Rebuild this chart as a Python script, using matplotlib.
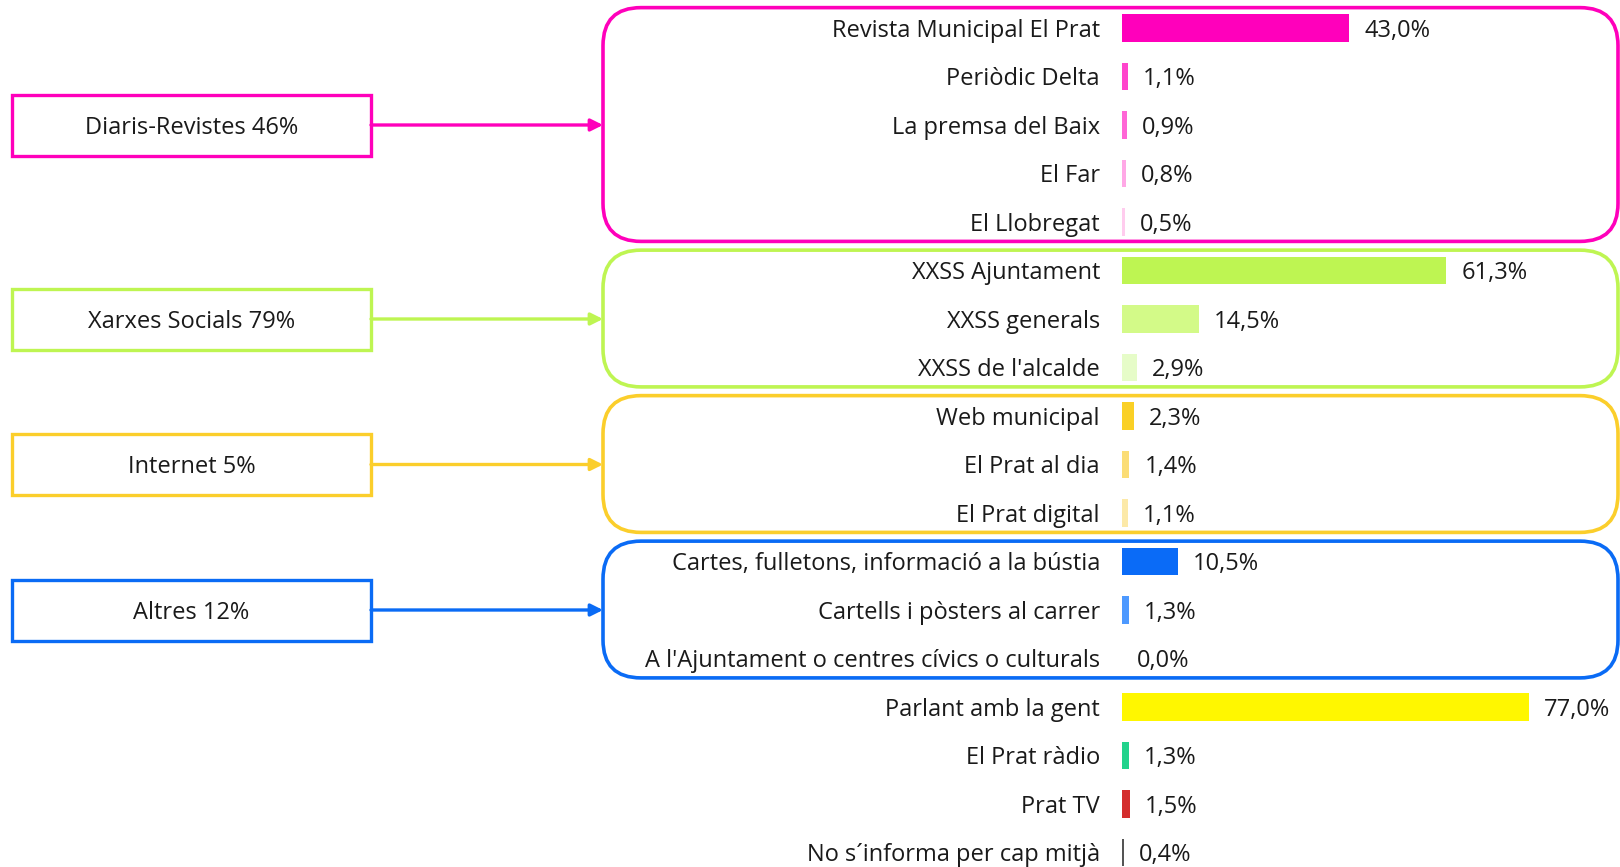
import matplotlib
matplotlib.use("Agg")
import matplotlib.pyplot as plt
from matplotlib.patches import FancyBboxPatch, Rectangle
import numpy as np

# ---------------- data ----------------
categories = [
    "Revista Municipal El Prat", "Periòdic Delta", "La premsa del Baix", "El Far", "El Llobregat",
    "XXSS Ajuntament", "XXSS generals", "XXSS de l'alcalde",
    "Web municipal", "El Prat al dia", "El Prat digital",
    "Cartes, fulletons, informació a la bústia", "Cartells i pòsters al carrer",
    "A l'Ajuntament o centres cívics o culturals",
    "Parlant amb la gent", "El Prat ràdio", "Prat TV", "No s´informa per cap mitjà",
]
values = [43.0, 1.1, 0.9, 0.8, 0.5,
          61.3, 14.5, 2.9,
          2.3, 1.4, 1.1,
          10.5, 1.3, 0.0,
          77.0, 1.3, 1.5, 0.4]
bar_colors = ["#FF00BB", "#FF44CC", "#FF66D6", "#FFA8E6", "#FFCCEE",
              "#BEF552", "#D3FA88", "#E6FCC8",
              "#FAD026", "#FBDD76", "#FCE9A8",
              "#0A6BF7", "#4D99FF", "#9CC5FF",
              "#FFF700", "#22D38C", "#D42D2D", "#555555"]

group_labels = ["Diaris-Revistes 46%", "Xarxes Socials 79%", "Internet 5%", "Altres 12%"]
group_rows = [(0, 4), (5, 7), (8, 10), (11, 13)]
group_colors = ["#FF00BB", "#BEF552", "#FBCE2B", "#0A6BF5"]

# ---------------- layout (pixels) ----------------
W, H, DPI = 1620, 867, 100
X0_PX = 1122          # bar origin
PX_PER_PCT = 5.29
ROW0_PX = 28
ROW_PX = 48.5
TY = 2.5 / ROW_PX     # small downward text offset

def xpx(p):
    return (p - X0_PX) / PX_PER_PCT

plt.rcParams['font.family'] = ['Open Sans', 'DejaVu Sans']
TXT = "#1a1a1a"
FS = 17

fig = plt.figure(figsize=(W / DPI, H / DPI), dpi=DPI)
ax = fig.add_axes([0, 0, 1, 1])
ax.set_xlim(xpx(0), xpx(W))
ax.set_ylim((H - ROW0_PX) / ROW_PX, -ROW0_PX / ROW_PX)
ax.axis("off")

rows = np.arange(len(categories))
ax.barh(rows, values, height=0.57, color=bar_colors, left=0)

for r, (c, v) in enumerate(zip(categories, values)):
    ax.text(xpx(1100), r + TY, c, ha="right", va="center", fontsize=FS, color=TXT)
    ax.text(v + 15 / PX_PER_PCT, r + TY, f"{v:.1f}%".replace(".", ","),
            ha="left", va="center", fontsize=FS, color=TXT)

# group rounded boxes
r_px = 38
for (a, b), col in zip(group_rows, group_colors):
    top = a - 0.42
    bot = b + 0.40
    patch = FancyBboxPatch((xpx(603), top), xpx(1618) - xpx(603), bot - top,
                           boxstyle=f"round,pad=0,rounding_size={r_px / PX_PER_PCT}",
                           mutation_aspect=PX_PER_PCT / ROW_PX,
                           fill=False, edgecolor=col, linewidth=2.6, clip_on=False)
    ax.add_patch(patch)

# left label boxes + arrows
for lab, (a, b), col in zip(group_labels, group_rows, group_colors):
    yc = (a + b) / 2
    h = 61 / ROW_PX
    rect = Rectangle((xpx(12), yc - h / 2), xpx(371) - xpx(12), h,
                     fill=False, edgecolor=col, linewidth=2.4)
    ax.add_patch(rect)
    ax.text((xpx(12) + xpx(371)) / 2, yc + TY, lab, ha="center", va="center",
            fontsize=FS, color=TXT)
    ax.annotate("", xy=(xpx(603), yc), xytext=(xpx(371), yc),
                arrowprops=dict(arrowstyle="-|>", color=col, lw=2.4,
                                mutation_scale=18, shrinkA=0, shrinkB=0))

fig.savefig("out.png", dpi=DPI, facecolor="white")
